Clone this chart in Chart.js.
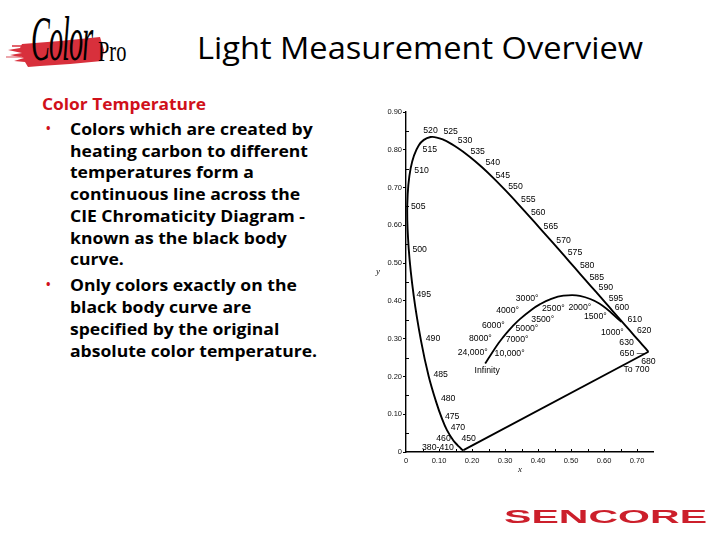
<!DOCTYPE html>
<html>
<head>
<meta charset="utf-8">
<script src="https://cdn.jsdelivr.net/npm/chart.js@4.4.1/dist/chart.umd.min.js"></script>
<style>
  html,body{margin:0;padding:0;background:#fff;width:720px;height:540px;overflow:hidden;}
  .abs{position:absolute;white-space:nowrap;}
  #title{left:420px;top:47px;font-family:"Open Sans",sans-serif;font-size:31px;color:#000;transform-origin:center center;}
  #heading{left:42px;top:93px;font-family:"Open Sans",sans-serif;font-weight:700;font-size:16px;color:#d0101a;transform-origin:left top;}
  #body{left:70px;top:119px;font-family:"Open Sans",sans-serif;font-weight:700;font-size:16px;color:#000;line-height:21.7px;transform-origin:left top;}
  .bul{position:absolute;color:#d0101a;font-family:"Open Sans",sans-serif;font-size:12px;font-weight:700;}
  #sencore{left:606px;top:517px;font-family:"Liberation Sans",sans-serif;font-weight:700;font-size:18px;color:#cc1f2b;transform-origin:center center;}
  .ax{position:absolute;font-family:"Liberation Serif",serif;font-style:italic;font-size:9px;color:#111;}
</style>
</head>
<body>
<!-- logo -->
<svg class="abs" style="left:0;top:0" width="140" height="80">
  <polygon points="22,44 60,41 100,37 104,50 102,61 70,64 40,66 28,67 25,62 14,61 24,58 10,55 22,53 8,50 20,48" fill="#d8303c"/>
  <line x1="12" y1="46" x2="30" y2="46" stroke="#d8303c" stroke-width="1.5"/>
  <line x1="6" y1="57" x2="22" y2="57" stroke="#e06a72" stroke-width="1.2"/>
</svg>
<div class="abs" id="logoC" style="left:31px;top:2px;font-family:'Liberation Serif',serif;font-style:italic;font-size:64px;color:#000;transform:scaleX(0.44);transform-origin:left top;letter-spacing:-2px;">Color</div>
<div class="abs" id="logoP" style="left:98px;top:34px;font-family:'Liberation Serif',serif;font-size:30px;color:#000;transform:scaleX(0.68);transform-origin:left top;">Pro</div>

<div class="abs" id="title">Light Measurement Overview</div>
<div class="abs" id="heading">Color Temperature</div>
<div class="bul" style="left:46px;top:120px;">•</div>
<div class="bul" style="left:46px;top:276px;">•</div>
<div class="abs" id="body">
<div id="firstLine">Colors which are created by</div>
<div>heating carbon to different</div>
<div>temperatures form a</div>
<div>continuous line across the</div>
<div>CIE Chromaticity Diagram -</div>
<div>known as the black body</div>
<div>curve.</div>
<div style="margin-top:4.5px">Only colors exactly on the</div>
<div>black body curve are</div>
<div>specified by the original</div>
<div>absolute color temperature.</div>
</div>

<div id="wrap" style="position:absolute;left:360px;top:100px;width:320px;height:380px;"><canvas id="c"></canvas></div>
<div class="ax" style="left:376px;top:266px;">y</div>
<div class="ax" style="left:518px;top:464px;">x</div>

<div class="abs" id="sencore">SENCORE</div>

<script>
// ---- data ----
const wavelengths = [380,410,420,430,440,450,460,470,475,480,485,490,495,500,505,510,515,520,525,530,535,540,545,550,555,560,565,570,575,580,585,590,595,600,610,620,630,650,680,700];
const locusX = [0.1741,0.1726,0.1714,0.1689,0.1644,0.1566,0.1440,0.1241,0.1096,0.0913,0.0687,0.0454,0.0235,0.0082,0.0039,0.0139,0.0389,0.0743,0.1142,0.1547,0.1929,0.2296,0.2658,0.3016,0.3373,0.3731,0.4087,0.4441,0.4788,0.5125,0.5448,0.5752,0.6029,0.6270,0.6658,0.6915,0.7079,0.7260,0.7347,0.7347];
const locusY = [0.0050,0.0048,0.0051,0.0069,0.0109,0.0177,0.0297,0.0578,0.0868,0.1327,0.2007,0.2950,0.4127,0.5384,0.6548,0.7502,0.8120,0.8338,0.8262,0.8059,0.7816,0.7543,0.7243,0.6923,0.6589,0.6245,0.5896,0.5547,0.5202,0.4866,0.4544,0.4242,0.3965,0.3725,0.3340,0.3083,0.2920,0.2740,0.2653,0.2653];
const locusLabels = ["","380-410","","","","450","460","470","475","480","485","490","495","500","505","510","515","520","525","530","535","540","545","550","555","560","565","570","575","580","585","590","595","600","610","620","630","650 \u2014","680","To 700"];

const planckLabels = ["1000°","1500°","2000°","2500°","3000°","3500°","4000°","5000°","6000°","7000°","8000°","10,000°","24,000°","Infinity"];
const planckX = [0.6528,0.5857,0.5267,0.4770,0.4369,0.4053,0.3805,0.3451,0.3221,0.3064,0.2952,0.2807,0.2536,0.2399];
const planckY = [0.3444,0.3931,0.4133,0.4137,0.4041,0.3907,0.3768,0.3516,0.3318,0.3166,0.3048,0.2883,0.2530,0.2342];

const xTickLabels = ["0","0.10","0.20","0.30","0.40","0.50","0.60","0.70"];
const yTickLabels = ["0","0.10","0.20","0.30","0.40","0.50","0.60","0.70","0.80","0.90"];

// ---- label placement (pixel offsets from the data point) ----
const locusOffsets = {
  "380-410":[-25,-3],"450":[11,-7],"460":[-10,-2],"470":[11,-3],"475":[10,-3],"480":[12,-3],"485":[12,-2],
  "490":[12,-2],"495":[10,-1],"500":[11,1],"505":[11,2],"510":[11,2],"515":[11,4],"520":[0,-6],
  "525":[7,-8],"530":[8,-7],"535":[8,-5],"540":[11,-4],"545":[9,-3],"550":[10,-4],"555":[11,-3],
  "560":[9,-3],"565":[10,-3],"570":[11,-2],"575":[11,-3],"580":[12,-3],"585":[11,-3],"590":[10,-4],
  "595":[11,-4],"600":[9,-4],"610":[9,-6],"620":[10,-5],"630":[-13,1],"650 \u2014":[-13,5],"680":[0,10],"To 700":[-12,18]
};
const planckOffsets = {
  "1000°":[-9,11],"1500°":[-4,13],"2000°":[0,12],"2500°":[-10,13],"3000°":[-23,-1],"3500°":[3,15],
  "4000°":[-24,1],"5000°":[7,9],"6000°":[-19,-1],"7000°":[10,7],"8000°":[-23,2],"10,000°":[11,11],
  "24,000°":[-17,-4],"Infinity":[2,7]
};

const toPts = (xs, ys) => xs.map((x, i) => ({x: x, y: ys[i]}));

const labelPlugin = {
  id: 'labels',
  afterDatasetsDraw(chart) {
    const ctx = chart.ctx, xs = chart.scales.x, ys = chart.scales.y;
    ctx.save();
    ctx.fillStyle = '#000';
    ctx.font = '8.7px "Liberation Sans", Arial, sans-serif';
    ctx.textAlign = 'center';
    ctx.textBaseline = 'middle';
    locusLabels.forEach((t, i) => {
      if (!t) return;
      const o = locusOffsets[t] || [10, -3];
      ctx.fillText(t, xs.getPixelForValue(locusX[i]) + o[0], ys.getPixelForValue(locusY[i]) + o[1]);
    });
    planckLabels.forEach((t, i) => {
      const o = planckOffsets[t] || [0, 10];
      ctx.fillText(t, xs.getPixelForValue(planckX[i]) + o[0], ys.getPixelForValue(planckY[i]) + o[1]);
    });
    // minor ticks
    ctx.strokeStyle = '#000';
    ctx.lineWidth = 1;
    const bottom = ys.getPixelForValue(0), left = xs.getPixelForValue(0);
    for (let k = 1; k <= 14; k++) {
      const px = Math.round(xs.getPixelForValue(k * 0.05)) + 0.5;
      ctx.beginPath(); ctx.moveTo(px, bottom); ctx.lineTo(px, bottom - 3); ctx.stroke();
    }
    for (let k = 1; k <= 17; k += 2) {
      const py = Math.round(ys.getPixelForValue(k * 0.05)) + 0.5;
      ctx.beginPath(); ctx.moveTo(left, py); ctx.lineTo(left + 3, py); ctx.stroke();
    }
    ctx.restore();
  }
};

const tickFont = {family: '"Liberation Sans", Arial, sans-serif', size: 7.5};

new Chart(document.getElementById('c'), {
  type: 'scatter',
  data: {
    datasets: [
      {data: toPts(locusX, locusY), showLine: true, borderColor: '#000', borderWidth: 1.9, tension: 0.35, pointRadius: 0},
      {data: [{x: locusX[0], y: locusY[0]}, {x: locusX[locusX.length - 1], y: locusY[locusY.length - 1]}], showLine: true, borderColor: '#000', borderWidth: 1.9, tension: 0, pointRadius: 0},
      {data: toPts(planckX, planckY), showLine: true, borderColor: '#000', borderWidth: 1.8, tension: 0.4, pointRadius: 0}
    ]
  },
  options: {
    responsive: true, maintainAspectRatio: false, animation: false,
    layout: {padding: {left: 0, top: 12, right: 26.5, bottom: 0}},
    plugins: {legend: {display: false}, tooltip: {enabled: false}},
    scales: {
      x: {
        type: 'linear', min: 0, max: 0.75,
        afterFit(s) { s.height = 28; },
        grid: {display: true, drawOnChartArea: false, drawTicks: false},
        border: {display: true, color: '#000', width: 1.4},
        ticks: {stepSize: 0.1, includeBounds: false, padding: 4, maxRotation: 0, autoSkip: false, font: tickFont, color: '#111',
          callback: (v) => { const i = Math.round(v * 10); return (Math.abs(v * 10 - i) < 1e-6) ? (xTickLabels[i] || '') : ''; }}
      },
      y: {
        type: 'linear', min: 0, max: 0.9,
        afterFit(s) { s.width = 46; },
        grid: {display: true, drawOnChartArea: false, drawTicks: true, tickLength: 3, color: '#000'},
        border: {display: true, color: '#000', width: 1.4},
        ticks: {stepSize: 0.1, padding: 1, autoSkip: false, font: tickFont, color: '#111',
          callback: (v) => { const i = Math.round(v * 10); return (Math.abs(v * 10 - i) < 1e-6) ? (yTickLabels[i] || '') : ''; }}
      }
    }
  },
  plugins: [labelPlugin]
});

// fit slide text widths to the reference
function fit(id, target, center) {
  const el = document.getElementById(id);
  const w = el.getBoundingClientRect().width;
  const h = el.getBoundingClientRect().height;
  const s = target / w;
  if (center) {
    el.style.left = (parseFloat(getComputedStyle(el).left) - w / 2) + 'px';
    el.style.top = (parseFloat(getComputedStyle(el).top) - h / 2) + 'px';
  }
  el.style.transform = 'scaleX(' + s + ')';
  return s;
}
fit('title', 446, true);
fit('sencore', 203, true);
fit('heading', 164, false);
const fl = document.getElementById('firstLine');
const sb = 247 / fl.getBoundingClientRect().width;
document.getElementById('body').style.transform = 'scaleX(' + sb + ')';
</script>
</body>
</html>
